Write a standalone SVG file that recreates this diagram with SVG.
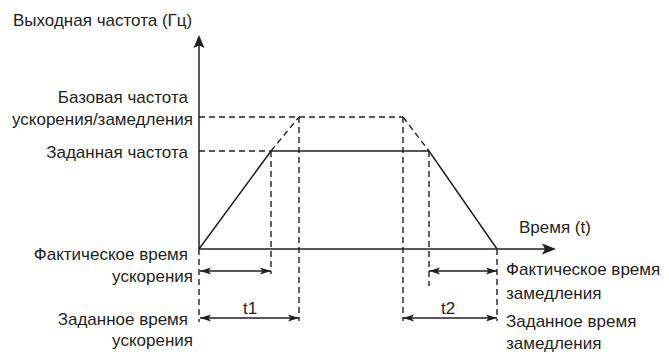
<svg xmlns="http://www.w3.org/2000/svg" width="669" height="354" viewBox="0 0 669 354">
<style>
.t{font-family:"Liberation Sans",Arial,sans-serif;font-size:17px;fill:#231f20}
.e{text-anchor:end}
.m{text-anchor:middle}
.s{stroke:#231f20;stroke-width:1.5;fill:none}
.d{stroke:#231f20;stroke-width:1.4;fill:none;stroke-dasharray:6 4}
.a{stroke:#231f20;stroke-width:1.3;fill:none;marker-start:url(#ah);marker-end:url(#ah)}
</style>
<defs>
<marker id="ah" viewBox="0 0 11 8" refX="11" refY="4" markerWidth="11" markerHeight="8" markerUnits="userSpaceOnUse" orient="auto-start-reverse">
<path d="M0,0.5 L11,4 L0,7.5 L2.5,4 Z" fill="#231f20"/>
</marker>
</defs>
<rect width="669" height="354" fill="#ffffff"/>
<g id="axes">
<line class="s" x1="199" y1="249" x2="199" y2="45"/>
<path d="M199,35 L204.5,48 L199,45.5 L193.5,48 Z" fill="#231f20"/>
<line class="s" x1="199" y1="249" x2="546" y2="249"/>
<path d="M556,249 L542,243.5 L545,249 L542,254.5 Z" fill="#231f20"/>
</g>
<g id="connectors">
<polyline class="s" points="199,249 271,151 429,151 497,249"/>
<line class="d" x1="199" y1="117" x2="403" y2="117"/>
<line class="d" x1="199" y1="151" x2="271" y2="151"/>
<line class="d" x1="271" y1="151" x2="299" y2="117"/>
<line class="d" x1="403" y1="117" x2="429" y2="151"/>
<line class="d" x1="271" y1="151" x2="271" y2="274"/>
<line class="d" x1="299" y1="117" x2="299" y2="321"/>
<line class="d" x1="403" y1="117" x2="403" y2="321"/>
<line class="d" x1="429" y1="151" x2="429" y2="286"/>
<line class="d" x1="497" y1="249" x2="497" y2="321"/>
<line class="d" x1="199" y1="249" x2="199" y2="322"/>
<line class="a" x1="200" y1="271" x2="271" y2="271"/>
<line class="a" x1="200" y1="318" x2="299" y2="318"/>
<line class="a" x1="429" y1="271" x2="497" y2="271"/>
<line class="a" x1="403" y1="318" x2="497" y2="318"/>
</g>
<g id="labels">
<text class="t" x="13" y="26">Выходная частота (Гц)</text>
<text class="t e" x="188" y="103">Базовая частота</text>
<text class="t e" x="193" y="125">ускорения/замедления</text>
<text class="t e" x="188" y="158">Заданная частота</text>
<text class="t e" x="188" y="260">Фактическое время</text>
<text class="t e" x="193" y="282">ускорения</text>
<text class="t e" x="188" y="325">Заданное время</text>
<text class="t e" x="193" y="346">ускорения</text>
<text class="t" x="519" y="233">Время (t)</text>
<text class="t" x="506" y="275">Фактическое время</text>
<text class="t" x="506" y="299">замедления</text>
<text class="t" x="506" y="327">Заданное время</text>
<text class="t" x="506" y="349">замедления</text>
<text class="t m" x="250" y="314">t1</text>
<text class="t m" x="448" y="314">t2</text>
</g>
</svg>
